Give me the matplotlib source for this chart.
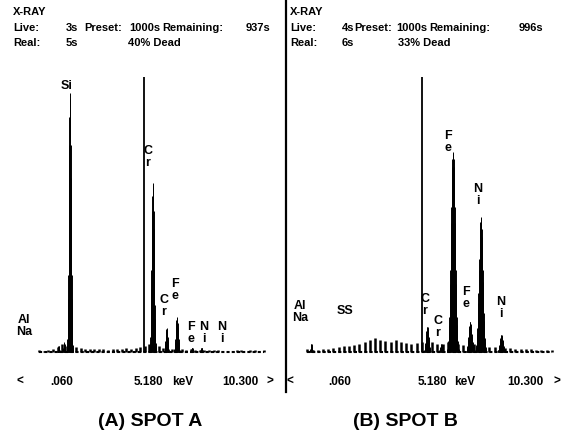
import numpy as np
import matplotlib
matplotlib.use("Agg")
import matplotlib.pyplot as plt
from matplotlib.lines import Line2D

W, H = 566, 438

# ---------------- data ----------------
# Spot A: peaks (keV, relative counts, peak sigma keV)
a_peak_kev = [1.25, 1.49, 1.74, 5.35, 5.95, 6.40, 7.06, 7.47]
a_peak_counts = [6, 10, 259, 169, 24, 35, 4, 4]
a_peak_sigma = [0.03, 0.03, 0.045, 0.05, 0.04, 0.05, 0.04, 0.04]
a_bg_kev = [0.4, 0.6, 0.8, 1.0, 1.2, 1.4, 1.6, 1.8, 2.0, 2.2, 2.4, 2.6, 2.8, 3.0,
            3.2, 3.4, 3.6, 3.8, 4.0, 4.2, 4.4, 4.6, 4.8, 5.0, 5.2, 5.6, 5.8, 6.0,
            6.2, 6.6, 6.8, 7.0, 7.2, 7.4, 7.6, 7.8, 8.0, 8.2, 9.0, 9.2, 9.6, 9.8, 10.2]
a_bg_counts = [2, 1, 2, 3, 5, 8, 6, 8, 5, 4, 3, 3, 3, 3,
               3, 2, 3, 3, 3, 4, 3, 4, 5, 6, 8, 6, 4, 3,
               3, 3, 2, 3, 2, 2, 2, 2, 2, 2, 2, 2, 2, 2, 2]
a_cursor_kev = 4.98
a_cursor_counts = 275

# Spot B
b_peak_kev = [0.95, 5.41, 5.95, 6.40, 7.06, 7.47, 8.26]
b_peak_counts = [8, 25, 8, 200, 30, 135, 17]
b_peak_sigma = [0.03, 0.05, 0.04, 0.075, 0.06, 0.07, 0.06]
b_bg_kev = [0.8, 1.0, 1.2, 1.4, 1.6, 1.8, 2.0, 2.2, 2.4, 2.6, 2.8, 3.0, 3.2, 3.4,
            3.6, 3.8, 4.0, 4.2, 4.4, 4.6, 4.8, 5.0, 5.2, 5.6, 5.8, 6.0, 6.2, 6.6,
            6.8, 7.2, 7.6, 7.8, 8.0, 8.4, 8.6, 8.8, 9.0, 9.2, 9.4, 9.6, 9.8, 10.0, 10.2]
b_bg_counts = [3, 2, 2, 3, 3, 4, 5, 6, 6, 7, 8, 10, 12, 14,
               12, 11, 10, 12, 10, 9, 8, 9, 10, 10, 8, 8, 10, 8,
               7, 8, 6, 5, 5, 4, 4, 3, 3, 3, 3, 2, 2, 2, 2]
b_cursor_kev = 5.2
b_cursor_counts = 275

a_header = [("X-RAY", 13, 12), ("Live:", 13, 28), ("3s", 66, 28), ("Preset:", 84, 28),
            ("1000s", 129, 28), ("Remaining:", 162, 28), ("937s", 246, 28),
            ("Real:", 13, 43), ("5s", 66, 43), ("40% Dead", 128, 43)]
b_header = [("X-RAY", 290, 12), ("Live:", 290, 28), ("4s", 342, 28), ("Preset:", 354, 28),
            ("1000s", 396, 28), ("Remaining:", 429, 28), ("996s", 519, 28),
            ("Real:", 290, 43), ("6s", 342, 43), ("33% Dead", 398, 43)]
a_axis_labels = [("<", 20), (".060", 62), ("5.180", 148), ("keV", 183), ("10.300", 240), (">", 270)]
b_axis_labels = [("<", 290), (".060", 340), ("5.180", 432), ("keV", 465), ("10.300", 525), (">", 557)]
a_elem = [("Si", 67, 86), ("C\nr", 148, 157), ("C\nr", 164, 306), ("F\ne", 175, 290),
          ("F\ne", 191, 333), ("N\ni", 204, 333), ("N\ni", 222, 333), ("Al\nNa", 24, 326)]
b_elem = [("SS", 345, 311), ("C\nr", 425, 305), ("C\nr", 438, 327), ("F\ne", 448, 142),
          ("F\ne", 466, 298), ("N\ni", 478, 195), ("N\ni", 501, 308), ("Al\nNa", 300, 312)]

fig = plt.figure(figsize=(W / 100, H / 100), dpi=100)
fig.patch.set_facecolor("white")

def fx(x):
    return x / W

def fy(y):
    return 1 - y / H

hfont = dict(family=["Liberation Sans", "DejaVu Sans"], weight="bold", color="black")

def panel(x0px, slope, left, right, pk, pc, ps, bk, bc, ck, cc):
    ax = fig.add_axes([fx(left), fy(360), fx(right) - fx(left), (360 - 60) / H])
    ax.set_xlim((left - x0px) / slope, (right - x0px) / slope)
    ax.set_ylim(-8, 292)
    ax.axis("off")
    e = np.arange(min(bk), 10.3, 0.01)
    c = np.zeros_like(e)
    for k, h, s in zip(pk, pc, ps):
        c += h * np.exp(-0.5 * ((e - k) / s) ** 2)
    m = c > 0.8
    ax.vlines(e[m], 0, c[m], color="black", lw=0.7)
    ax.vlines(bk, 0, bc, color="black", lw=1.8)
    ax.plot([min(bk), max(bk)], [0, 0], ls=(0, (1.5, 1)), lw=1.5, color="black")
    ax.vlines([ck], 0, [cc], color="black", lw=1.3)
    return ax

panel(30, 22.96, 20, 275, a_peak_kev, a_peak_counts, a_peak_sigma,
      a_bg_kev, a_bg_counts, a_cursor_kev, a_cursor_counts)
panel(286.6, 26.0, 290, 560, b_peak_kev, b_peak_counts, b_peak_sigma,
      b_bg_kev, b_bg_counts, b_cursor_kev, b_cursor_counts)

fig.add_artist(Line2D([fx(285.5)] * 2, [fy(0), fy(392)], color="black", lw=1.6))

for s, x, y in a_header + b_header:
    fig.text(fx(x), fy(y), s, fontsize=8, ha="left", va="center", **hfont)
for s, x in a_axis_labels + b_axis_labels:
    fig.text(fx(x), fy(382), s, fontsize=8.5, ha="center", va="center", **hfont)
for s, x, y in a_elem + b_elem:
    fig.text(fx(x), fy(y), s, fontsize=9, ha="center", va="center",
             linespacing=1.0, **hfont)

cfont = dict(family=["Liberation Sans", "DejaVu Sans"], weight="bold", fontsize=14)
fig.text(fx(150), fy(421), "(A) SPOT A", ha="center", va="center", **cfont)
fig.text(fx(405), fy(421), "(B) SPOT B", ha="center", va="center", **cfont)

fig.savefig("out.png", dpi=100, facecolor="white")
